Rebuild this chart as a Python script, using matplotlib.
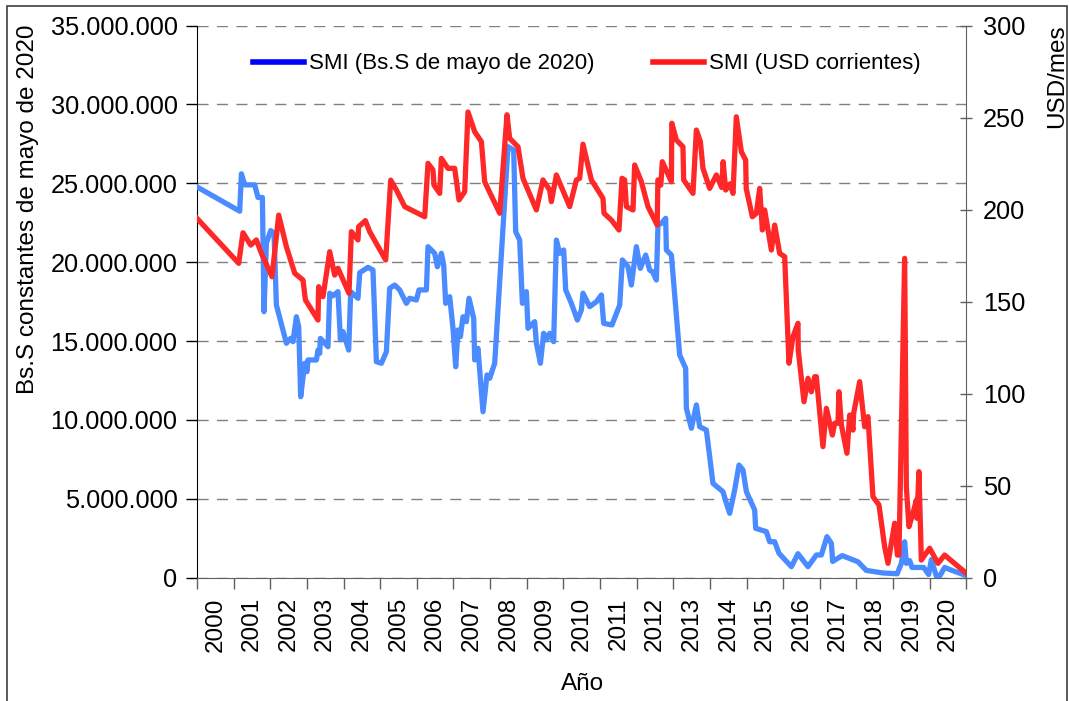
import numpy as np
import matplotlib
matplotlib.use('Agg')
import matplotlib.pyplot as plt
from matplotlib.lines import Line2D
from matplotlib.patches import Rectangle
from matplotlib.ticker import FuncFormatter

plt.rcParams['font.family'] = ['Liberation Sans', 'DejaVu Sans']

# SMI in constant Bs.S of May 2020 (millions), x = years since 2000
bs_t = [0.00, 1.165, 1.212, 1.302, 1.575, 1.665, 1.785, 1.829, 1.894, 2.011, 2.102, 2.167,
        2.440, 2.557, 2.620, 2.713, 2.776, 2.830, 2.939, 3.002, 3.029, 3.259, 3.302, 3.349,
        3.368, 3.575, 3.622, 3.712, 3.848, 3.914, 3.985, 4.140, 4.195, 4.394, 4.441, 4.667,
        4.803, 4.896, 5.033, 5.169, 5.259, 5.396, 5.532, 5.715, 5.805, 5.988, 6.059, 6.261,
        6.305, 6.487, 6.561, 6.670, 6.733, 6.788, 6.897, 6.987, 7.061, 7.123, 7.189, 7.260,
        7.353, 7.424, 7.552, 7.579, 7.669, 7.806, 7.915, 7.989, 8.125, 8.488, 8.644, 8.698,
        8.807, 8.881, 8.990, 9.034, 9.217, 9.263, 9.372, 9.462, 9.536, 9.626, 9.735, 9.809,
        9.899, 10.008, 10.063, 10.218, 10.382, 10.491, 10.535, 10.718, 10.900, 11.037, 11.100,
        11.326, 11.537, 11.610, 11.763, 11.856, 11.992, 12.101, 12.246, 12.355, 12.429, 12.538,
        12.582, 12.675, 12.792, 12.811, 12.948, 13.174, 13.338, 13.357, 13.494, 13.630, 13.720,
        13.903, 14.083, 14.356, 14.449, 14.539, 14.675, 14.793, 14.902, 14.995, 15.221, 15.248,
        15.540, 15.630, 15.767, 15.884, 15.950, 16.223, 16.403, 16.676, 16.905, 17.041, 17.194,
        17.314, 17.350, 17.609, 18.040, 18.270, 18.723, 19.110, 19.225, 19.315, 19.361, 19.452,
        19.514, 19.834, 19.970, 20.044, 20.180, 20.270, 20.406, 20.633, 20.980]
bs_val = [24.77, 23.23, 25.6, 24.9, 24.9, 24.1, 24.1, 16.86, 21.2, 22.0, 21.85, 17.28,
          14.86, 15.17, 14.96, 16.54, 15.9, 11.47, 13.59, 13.06, 13.8, 13.8, 14.43, 14.22,
          15.17, 14.64, 18.03, 17.87, 18.13, 15.07, 15.6, 14.43, 18.13, 17.71, 19.33, 19.67,
          19.5, 13.69, 13.59, 14.32, 18.34, 18.55, 18.24, 17.39, 17.71, 17.6, 18.24, 18.24,
          20.98, 20.56, 19.71, 20.56, 19.82, 17.39, 17.81, 15.81, 13.37, 15.7, 15.28, 16.54,
          16.23, 17.71, 16.44, 13.8, 14.54, 10.52, 12.85, 12.64, 13.59, 27.32, 27.11, 21.93,
          21.4, 17.39, 18.13, 15.81, 16.23, 14.86, 13.59, 15.49, 15.07, 15.49, 14.96, 21.4,
          20.56, 20.77, 18.24, 17.39, 16.33, 16.97, 18.03, 17.18, 17.49, 17.92, 16.12,
          16.02, 17.28, 20.14, 19.71, 18.55, 20.98, 19.61, 20.45, 19.5, 19.4, 18.87,
          22.35, 22.46, 22.78, 20.77, 20.45, 14.12, 13.27, 10.74, 9.47, 10.95, 9.57,
          9.36, 5.98, 5.45, 4.72, 4.08, 5.56, 7.14, 6.83, 5.45, 4.29, 3.13,
          2.92, 2.28, 2.28, 1.55, 1.38, 0.70, 1.52, 0.70, 1.44, 1.44, 2.6,
          2.18, 1.03, 1.40, 1.01, 0.46, 0.30, 0.25, 0.91, 2.28, 0.91, 1.08,
          0.65, 0.65, 0.20, 1.15, 0.10, 0.10, 0.65, 0.44, 0.15]

# SMI in current USD per month
usd_t = [0.00, 1.138, 1.255, 1.466, 1.621, 1.758, 2.047, 2.230, 2.440, 2.667, 2.893, 2.959,
         3.302, 3.320, 3.439, 3.622, 3.758, 3.848, 4.148, 4.214, 4.394, 4.413, 4.596, 4.713,
         5.150, 5.287, 5.442, 5.669, 6.215, 6.305, 6.441, 6.468, 6.624, 6.670, 6.850, 7.033,
         7.151, 7.306, 7.396, 7.579, 7.762, 7.852, 8.262, 8.461, 8.534, 8.761, 8.897, 9.263,
         9.443, 9.626, 9.672, 9.809, 10.172, 10.355, 10.445, 10.535, 10.764, 11.081, 11.108,
         11.310, 11.518, 11.600, 11.673, 11.720, 11.900, 11.946, 12.129, 12.309, 12.560, 12.580,
         12.660, 12.700, 12.948, 12.960, 13.084, 13.264, 13.283, 13.537, 13.630, 13.739, 13.810,
         13.993, 14.176, 14.320, 14.360, 14.430, 14.550, 14.630, 14.720, 14.858, 14.975, 14.990,
         15.158, 15.267, 15.358, 15.431, 15.494, 15.677, 15.767, 15.903, 16.040, 16.157, 16.266,
         16.403, 16.410, 16.567, 16.676, 16.769, 16.859, 16.905, 17.085, 17.178, 17.342, 17.405,
         17.495, 17.522, 17.588, 17.740, 17.814, 17.904, 17.923, 18.087, 18.223, 18.313, 18.450,
         18.614, 18.769, 18.860, 19.042, 19.116, 19.159, 19.315, 19.361, 19.432, 19.541, 19.634,
         19.650, 19.705, 19.770, 19.997, 20.224, 20.406, 20.999]
usd_val = [195.2, 170.8, 187.4, 180.7, 183.5, 176.2, 163.5, 197.0, 179.8, 165.4, 161.7, 150.9,
           140.0, 158.1, 152.7, 177.1, 164.4, 168.1, 154.5, 188.0, 183.5, 190.7, 194.0, 188.0,
           172.6, 216.0, 210.6, 201.6, 196.1, 225.1, 221.5, 213.3, 208.8, 227.8, 222.4, 222.4,
           205.2, 209.7, 253.0, 242.3, 236.9, 215.1, 198.0, 251.5, 238.7, 234.1, 217.0, 199.8,
           216.1, 210.6, 204.3, 218.8, 201.6, 216.1, 217.0, 235.5, 216.1, 206.1, 198.0,
           194.3, 188.9, 217.0, 216.1, 201.6, 199.8, 224.2, 215.1, 201.6, 191.6, 216.1,
           213.3, 226.0, 215.1, 246.9, 237.8, 234.1, 216.1, 208.8, 243.2, 236.9, 222.4,
           211.5, 218.8, 212.0, 226.0, 210.6, 214.0, 208.8, 250.4, 231.4, 226.9, 211.5,
           196.1, 198.0, 211.5, 188.9, 199.8, 178.0, 191.6, 176.2, 174.4, 116.5, 130.9,
           138.2, 123.7, 95.6, 108.3, 101.0, 109.2, 109.2, 71.2, 92.0, 77.5, 83.9,
           83.9, 101.0, 83.0, 67.6, 88.4, 80.2, 89.3, 106.5, 82.0, 87.5, 44.0,
           39.5, 16.8, 7.8, 29.6, 12.3, 12.3, 173.5, 49.4, 27.7, 35.0, 42.2,
           32.3, 57.6, 9.6, 16.0, 7.8, 12.3, 2.4]

years = list(range(2000, 2021))
left_ticks = [0, 5e6, 10e6, 15e6, 20e6, 25e6, 30e6, 35e6]
right_ticks = [0, 50, 100, 150, 200, 250, 300]

blue = '#4A8BFF'
red = '#FF2828'
fs = 17.5
fs_y = 18.3
fs_leg = 16

fig = plt.figure(figsize=(10.69, 7.01), dpi=100)
ax = fig.add_axes([197/1069, 1 - 577.7/701, 769.4/1069, 552.2/701])
ax2 = ax.twinx()

ax.plot(2000 + np.array(bs_t), np.array(bs_val) * 1e6, color=blue, lw=3.8, zorder=3)
ax2.plot(2000 + np.array(usd_t), usd_val, color=red, lw=3.8, zorder=3)

ax.set_xlim(2000, 2021)
ax.set_ylim(0, 35e6)
ax2.set_ylim(0, 300)

ax.set_yticks(left_ticks)
ax.yaxis.set_major_formatter(FuncFormatter(lambda v, p: f'{int(v):,}'.replace(',', '.')))
ax2.set_yticks(right_ticks)

# ticks on year boundaries, labels centred inside each year
ax.set_xticks(np.arange(2000, 2022))
ax.set_xticklabels([])
ax.set_xticks(np.array(years) + 0.5, minor=True)
ax.set_xticklabels([str(y) for y in years], minor=True, rotation=90)
ax.tick_params(axis='x', which='major', length=8, width=1, color='#606060', direction='out')
ax.tick_params(axis='x', which='minor', length=0, pad=14, labelsize=fs)
ax.tick_params(axis='y', length=8, width=1, direction='out', pad=6, labelsize=fs_y)
ax2.tick_params(axis='y', length=8, width=1, direction='inout', color='#606060', pad=8, labelsize=fs_y)

ax.grid(axis='y', color='#808080', linestyle=(0, (8, 6)), linewidth=1)
ax.set_axisbelow(True)

ax.spines['top'].set_visible(False)
ax2.spines['top'].set_visible(False)
ax2.spines['left'].set_visible(False)
ax2.spines['bottom'].set_visible(False)
ax.spines['right'].set_visible(False)
ax.spines['left'].set_color('black')
ax.spines['bottom'].set_color('#606060')
ax2.spines['right'].set_color('#606060')

fig.text(28/1069, 1 - 24/701, 'Bs.S constantes de mayo de 2020', rotation=90,
         ha='center', va='top', fontsize=fs)
fig.text(1057/1069, 1 - 24/701, 'USD/mes', rotation=90, ha='center', va='top', fontsize=fs)
fig.text(583/1069, 1 - 684/701, 'Año', ha='center', va='center', fontsize=fs)

handles = [Line2D([], [], color='#0000FF', lw=4), Line2D([], [], color='#FF1A1A', lw=4)]
fig.legend(handles, ['SMI (Bs.S de mayo de 2020)', 'SMI (USD corrientes)'],
           loc='center left', bbox_to_anchor=(253/1069, 1 - 64/701), ncol=2,
           frameon=False, fontsize=fs_leg, handlelength=2.3, handletextpad=0.23,
           columnspacing=2.6, borderpad=0, borderaxespad=0)

fig.patches.append(Rectangle((7/1069, -0.01), 1060/1069, 1 - 6/701 + 0.01,
                             transform=fig.transFigure, fill=False,
                             edgecolor='#404040', lw=1.2))

fig.savefig('out.png', dpi=100)
